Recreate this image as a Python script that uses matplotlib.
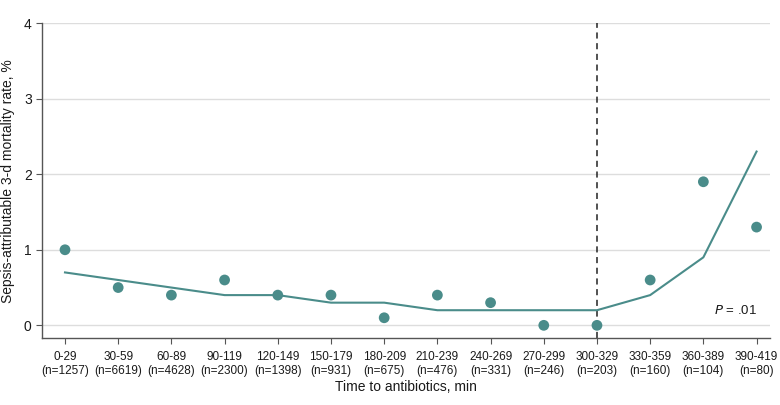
import matplotlib
matplotlib.use('Agg')
import matplotlib.pyplot as plt

plt.rcParams['font.family'] = ['Liberation Sans', 'DejaVu Sans']

cats = ['0-29', '30-59', '60-89', '90-119', '120-149', '150-179', '180-209',
        '210-239', '240-269', '270-299', '300-329', '330-359', '360-389', '390-419']
ns = [1257, 6619, 4628, 2300, 1398, 931, 675, 476, 331, 246, 203, 160, 104, 80]
observed = [1.0, 0.5, 0.4, 0.6, 0.4, 0.4, 0.1, 0.4, 0.3, 0.0, 0.0, 0.6, 1.9, 1.3]
fitted = [0.7, 0.6, 0.5, 0.4, 0.4, 0.3, 0.3, 0.2, 0.2, 0.2, 0.2, 0.4, 0.9, 2.3]
cutoff = 10  # index of 300-329

teal = '#4a8c8a'
x = list(range(len(cats)))
labels = [c + '\n(n=' + str(n) + ')' for c, n in zip(cats, ns)]

fig = plt.figure(figsize=(7.8, 4.05), dpi=100)
ax = fig.add_axes([0.054, 0.165, 0.933, 0.778])

for v in [0, 1, 2, 3, 4]:
    ax.axhline(v, color='#dddddd', lw=1, zorder=0)

ax.plot(x, fitted, color=teal, lw=1.5, zorder=2)
ax.scatter(x, observed, s=60, color=teal, zorder=3, edgecolors='none')
ax.axvline(cutoff, color='#222222', lw=1.1, ls=(0, (4, 3)), zorder=1)

ax.set_xlim(-0.43, 13.25)
ax.set_ylim(-0.17, 4)
ax.set_xticks(x)
ax.set_xticklabels(labels, fontsize=8.5, color='#1a1a1a', linespacing=1.3)
ax.set_yticks([0, 1, 2, 3, 4])
ax.tick_params(axis='y', labelsize=10, colors='#1a1a1a', length=4, color='#555555')
ax.tick_params(axis='x', length=4, color='#555555', pad=5)

for s in ['top', 'right']:
    ax.spines[s].set_visible(False)
for s in ['left', 'bottom']:
    ax.spines[s].set_color('#555555')
    ax.spines[s].set_linewidth(1)

ax.set_xlabel('Time to antibiotics, min', fontsize=10, color='#1a1a1a', labelpad=2)
ax.set_ylabel('Sepsis-attributable 3-d mortality rate, %', fontsize=10, color='#1a1a1a', labelpad=6)

ax.text(13.0, 0.2, '$\\it{P}$ = .01', ha='right', va='center', fontsize=9.5, color='#1a1a1a')

fig.savefig('out.png', dpi=100)
